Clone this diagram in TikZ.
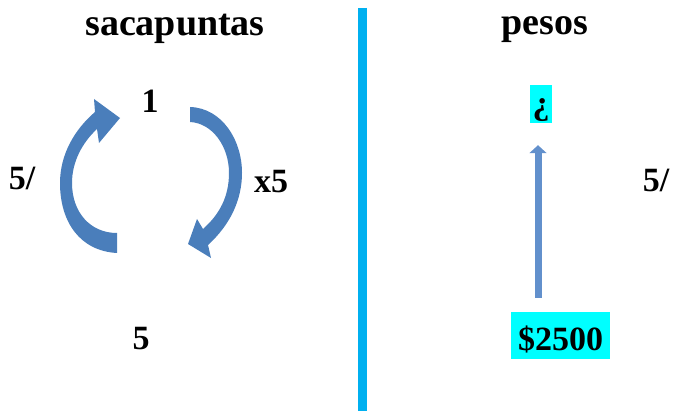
\documentclass[tikz,border=0pt]{standalone}
\usepackage{fontspec}
\setmainfont{Liberation Serif}
\usepackage{tikz}
\usetikzlibrary{positioning, arrows.meta, calc}
\definecolor{arcblue}{RGB}{74,126,187}
\definecolor{liftblue}{RGB}{98,144,204}
\definecolor{divcyan}{RGB}{0,176,240}
\definecolor{hlcyan}{RGB}{0,255,255}

\begin{document}
\begin{tikzpicture}[x=1pt, y=-1pt, >=Latex,
  title/.style={font=\fontsize{38}{40}\selectfont\bfseries, anchor=base, inner sep=0pt},
  num/.style={font=\fontsize{34}{36}\selectfont\bfseries, anchor=base, inner sep=0pt},
  hilite/.style={num, fill=hlcyan},
  arcshape/.style={fill=arcblue},
  lift/.style={draw=liftblue, line width=7pt, -{Triangle[width=17pt,length=8pt]}},
  divider/.style={draw=divcyan, line width=9pt}]

  \useasboundingbox (0,0) rectangle (676,411);

  \node[title] (t-sac) at (175,36) {sacapuntas};
  \node[title] (t-pes) at (545,35) {pesos};

  \draw[divider] (362,8) -- (362,411);

  % left column
  \node[num] (one) at (150,113) {1};
  \node[num] (five) at (141,349) {5};
  \node[num] (div-l) at (22,190) {5/};
  \node[num] (mul) at (271,193) {x5};

  \fill[arcshape] (117,253) .. controls (80,251) and (60,222) .. (60,183)
    .. controls (60,155) and (74,130) .. (95,112) -- (94,99) -- (120,118)
    -- (99,143) -- (97,129) .. controls (82,143) and (72,162) .. (72,183)
    .. controls (72,212) and (90,233) .. (117,233) -- cycle;
  \fill[arcshape] (190,107) .. controls (222,108) and (242,140) .. (242,173)
    .. controls (242,200) and (230,225) .. (208,245) -- (211,258) -- (188,244)
    -- (197,219) -- (203,229) .. controls (220,214) and (229,196) .. (229,173)
    .. controls (229,146) and (212,123) .. (190,122) -- cycle;

  % right column
  \node[hilite, text height=30pt, text depth=8pt, minimum width=22pt] (ask) at (541,115) {¿};
  \node[hilite, text height=38pt, text depth=9pt, minimum width=99pt] (cash) at (560.5,350) {\$2500};
  \node[num] (div-r) at (656,192) {5/};

  \draw[lift, shorten <=14pt, shorten >=22pt] ([xshift=-3pt]cash.north -| ask.south) -- ([xshift=-3pt]ask.south);

\end{tikzpicture}
\end{document}
